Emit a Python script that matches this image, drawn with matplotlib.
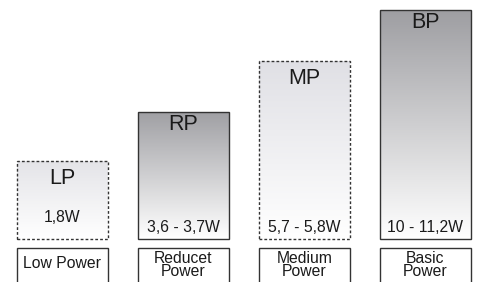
import numpy as np
import matplotlib.pyplot as plt
from matplotlib.patches import Rectangle
from matplotlib.colors import LinearSegmentedColormap

plt.rcParams['font.family'] = ['Liberation Sans', 'DejaVu Sans']

codes = ["LP", "RP", "MP", "BP"]
ranges = ["1,8W", "3,6 - 3,7W", "5,7 - 5,8W", "10 - 11,2W"]
names = ["Low Power", "Reducet\nPower", "Medium\nPower", "Basic\nPower"]
heights = [78, 127, 178, 229]          # schematic bar heights
dashed = [True, False, True, False]
top_shade = ["#e4e4e8", "#a0a0a4", "#e0e0e5", "#9e9ea2"]

fig = plt.figure(figsize=(4.78, 2.82), dpi=100)
ax = fig.add_axes([0, 0, 1, 1])
ax.set_xlim(-62.5 / 121, (478 - 62.5) / 121)
ax.set_ylim(-43, 239)
ax.axis("off")

x = np.arange(len(codes))
w = 0.75
bars = ax.bar(x, heights, width=w, color="none", edgecolor="#333333",
              linewidth=1.0, zorder=3)

grad = np.linspace(0, 1, 256).reshape(-1, 1)
for i, b in enumerate(bars):
    if dashed[i]:
        b.set_linestyle((0, (2, 1.5)))
    cmap = LinearSegmentedColormap.from_list("g", ["#ffffff", top_shade[i]])
    im = ax.imshow(grad, cmap=cmap, origin="lower", aspect="auto",
                   extent=[x[i] - w / 2, x[i] + w / 2, 0, heights[i]], zorder=2)
    im.set_clip_path(b)
    top_off = 12 if not dashed[i] else 17
    ax.text(x[i], heights[i] - top_off, codes[i], ha="center", va="center",
            fontsize=15.5, color="#1a1a1a", zorder=4)
    val_y = 21 if i == 0 else 11
    ax.text(x[i], val_y, ranges[i], ha="center", va="center",
            fontsize=11.3, color="#1a1a1a", zorder=4)
    ax.add_patch(Rectangle((x[i] - w / 2, -60), w, 51, facecolor="white",
                           edgecolor="#333333", linewidth=1.0, zorder=3))
    name_y = -24 if "\n" not in names[i] else -26
    ax.text(x[i], name_y, names[i], ha="center", va="center", fontsize=11.3,
            linespacing=0.8, color="#1a1a1a", zorder=4)

ax.set_xlim(-62.5 / 121, (478 - 62.5) / 121)
ax.set_ylim(-43, 239)
fig.savefig("out.png", dpi=100)
